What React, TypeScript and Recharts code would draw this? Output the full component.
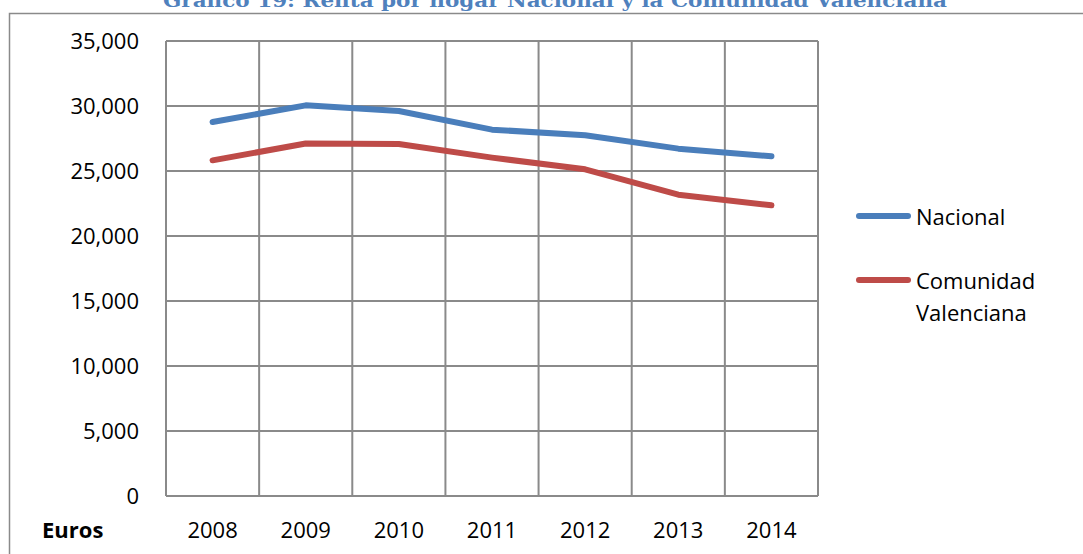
import { CartesianGrid, Legend, Line, LineChart, XAxis, YAxis } from "recharts";

const years = ["2008", "2009", "2010", "2011", "2012", "2013", "2014"];
const nacional = [28770, 30050, 29620, 28180, 27750, 26720, 26130];
const valenciana = [25820, 27110, 27080, 26030, 25130, 23180, 22360];
const yTicks = [0, 5000, 10000, 15000, 20000, 25000, 30000, 35000];
const seriesOrder = ["nacional", "valenciana"];

const data = years.map((year, i) => ({
  year,
  nacional: nacional[i],
  valenciana: valenciana[i],
}));

const GRID = "#8a8a8a";
const FONT = "'Open Sans', sans-serif";

const renderLegend = (props: any) => {
  const items = [...(props.payload || [])].sort(
    (a: any, b: any) => seriesOrder.indexOf(a.dataKey) - seriesOrder.indexOf(b.dataKey)
  );
  return (
    <div style={{ fontFamily: FONT, fontSize: 22, color: "#000", lineHeight: "32px" }}>
      {items.map((entry: any, index: number) => (
        <div key={index} style={{ display: "flex", alignItems: "flex-start", marginBottom: 32 }}>
          <div
            style={{
              width: 55,
              height: 6,
              marginTop: 13,
              borderRadius: 3,
              background: entry.color,
            }}
          />
          <div style={{ marginLeft: 5, width: 140 }}>{entry.value}</div>
        </div>
      ))}
    </div>
  );
};

export default function App() {
  return (
    <div style={{ position: "absolute", left: 0, top: 0, width: 1083, height: 554, background: "#fff" }}>
      <LineChart
        width={1083}
        height={554}
        data={data}
        margin={{ top: 41, right: 265, bottom: 0, left: 0 }}
      >
        <CartesianGrid
          stroke={GRID}
          strokeWidth={2}
          verticalCoordinatesGenerator={({ offset }: any) =>
            years.map((_, i) => offset.left + ((i + 1) * offset.width) / years.length)
          }
        />
        <XAxis
          dataKey="year"
          scale="band"
          height={58}
          tickLine={false}
          tickSize={0}
          tickMargin={26}
          axisLine={{ stroke: GRID, strokeWidth: 2 }}
          tick={{ fontFamily: FONT, fontSize: 22, fill: "#000" }}
          interval={0}
        />
        <YAxis
          width={166}
          domain={[0, 35000]}
          ticks={yTicks}
          interval={0}
          tickLine={false}
          tickSize={0}
          tickMargin={27}
          axisLine={{ stroke: GRID, strokeWidth: 2 }}
          tick={{ fontFamily: FONT, fontSize: 22, fill: "#000" }}
          tickFormatter={(v: number) => v.toLocaleString("en-US")}
        />
        <Legend
          layout="vertical"
          align="center"
          verticalAlign="middle"
          content={renderLegend}
          wrapperStyle={{ left: 856, top: 200, width: 220 }}
        />
        <Line
          type="linear"
          dataKey="nacional"
          name="Nacional"
          stroke="#4a7ebb"
          strokeWidth={6}
          strokeLinecap="round"
          strokeLinejoin="round"
          dot={false}
          isAnimationActive={false}
        />
        <Line
          type="linear"
          dataKey="valenciana"
          name="Comunidad Valenciana"
          stroke="#be4b48"
          strokeWidth={6}
          strokeLinecap="round"
          strokeLinejoin="round"
          dot={false}
          isAnimationActive={false}
        />
      </LineChart>
      <svg
        width={1083}
        height={554}
        style={{ position: "absolute", left: 0, top: 0, pointerEvents: "none" }}
      >
        <rect x={9.5} y={13.5} width={1100} height={600} fill="none" stroke={GRID} strokeWidth={1.5} />
        <text
          x={163}
          y={6.5}
          textLength={784}
          lengthAdjust="spacingAndGlyphs"
          fontFamily="'DejaVu Serif', serif"
          fontWeight="bold"
          fontSize={19}
          fill="#4f81bd"
        >
          Gráfico 19: Renta por hogar Nacional y la Comunidad Valenciana
        </text>
        <text x={42} y={538} fontFamily={FONT} fontWeight="bold" fontSize={22} fill="#000">
          Euros
        </text>
      </svg>
    </div>
  );
}
